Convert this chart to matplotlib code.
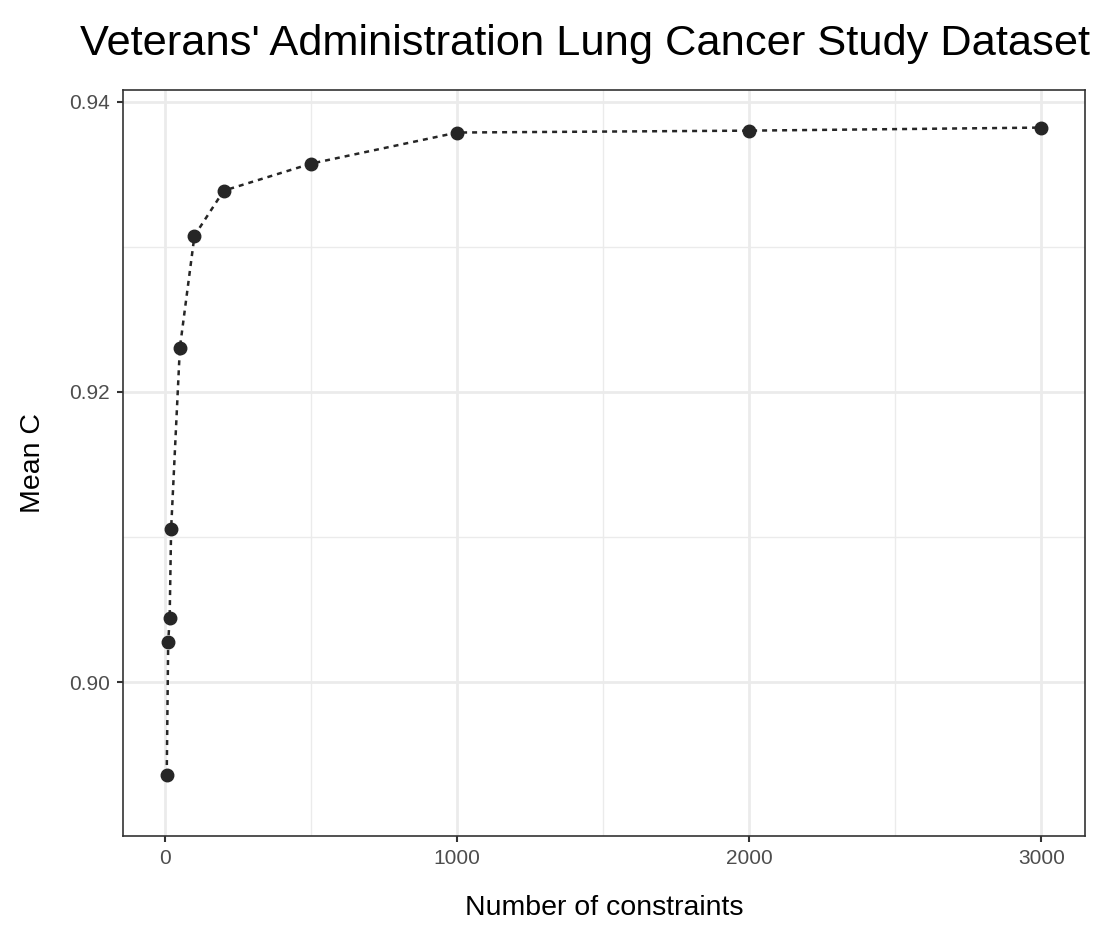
import matplotlib
matplotlib.use("Agg")
import matplotlib.pyplot as plt
from matplotlib.ticker import FixedLocator

# data
n_constraints = [5, 10, 15, 20, 50, 100, 200, 500, 1000, 2000, 3000]
mean_c = [0.89360, 0.90275, 0.90441, 0.91053, 0.92303, 0.93076,
          0.93386, 0.93573, 0.93787, 0.93800, 0.93821]

x_ticks = [0, 1000, 2000, 3000]
x_minor = [500, 1500, 2500]
y_ticks = [0.90, 0.92, 0.94]
y_minor = [0.91, 0.93]

plt.rcParams['font.family'] = ['Liberation Sans', 'DejaVu Sans']

fig = plt.figure(figsize=(11.03, 9.41), dpi=100)
ax = fig.add_axes([123/1103, 1-836/941, (1085-123)/1103, (836-90)/941])

ax.plot(n_constraints, mean_c, linestyle=(0, (2, 2)), color='#262626',
        linewidth=1.8, marker='o', markersize=9, zorder=3)

ax.set_xlim(-144.75, 3149.75)
ax.set_ylim(0.8894, 0.9408)
ax.set_xticks(x_ticks)
ax.set_yticks(y_ticks)
ax.set_yticklabels(['%.2f' % v for v in y_ticks])
ax.xaxis.set_minor_locator(FixedLocator(x_minor))
ax.yaxis.set_minor_locator(FixedLocator(y_minor))
ax.grid(which='major', color='#ebebeb', linewidth=2.0)
ax.grid(which='minor', color='#ebebeb', linewidth=1.0)
ax.set_axisbelow(True)
ax.tick_params(which='minor', length=0)
ax.tick_params(which='major', length=4.5, width=1.5, color='#333333',
               labelsize=15, labelcolor='#4d4d4d', pad=5)
for s in ax.spines.values():
    s.set_color('#333333')
    s.set_linewidth(1.2)

ax.set_xlabel('Number of constraints', fontsize=20.5, va='center')
ax.xaxis.set_label_coords(0.5, -(908-836)/746)
ax.set_ylabel('Mean C', fontsize=20.5, va='center')
ax.yaxis.set_label_coords(-(123-33)/962, 0.5)
fig.text(585/1103, 1-44/941, "Veterans' Administration Lung Cancer Study Dataset",
         fontsize=31.2, ha='center', va='center')

fig.savefig('out.png', dpi=100, facecolor='white')
